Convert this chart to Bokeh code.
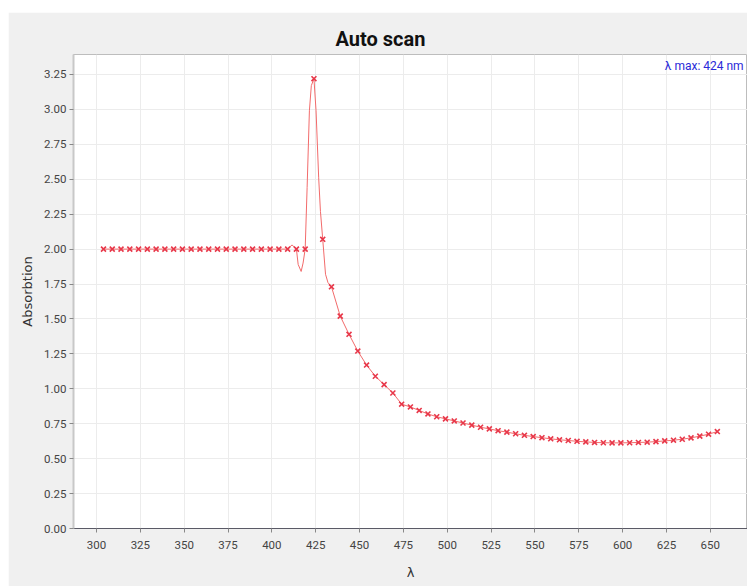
from bokeh.plotting import figure
from bokeh.models import Label, Range1d, FixedTicker, NumeralTickFormatter, Spacer
from bokeh.layouts import column, row
from bokeh.embed import file_html
from bokeh.resources import INLINE

# ---- data ----
mark_x = [304, 309, 314, 319, 324, 329, 334, 339, 344, 349, 354, 359, 364, 369,
          374, 379, 384, 389, 394, 399, 404, 409, 414, 419, 424, 429, 434, 439,
          444, 449, 454, 459, 464, 469, 474, 479, 484, 489, 494, 499, 504, 509,
          514, 519, 524, 529, 534, 539, 544, 549, 554, 559, 564, 569, 574, 579,
          584, 589, 594, 599, 604, 609, 614, 619, 624, 629, 634, 639, 644, 649, 654]
mark_y = [2.00, 2.00, 2.00, 2.00, 2.00, 2.00, 2.00, 2.00, 2.00, 2.00, 2.00, 2.00,
          2.00, 2.00, 2.00, 2.00, 2.00, 2.00, 2.00, 2.00, 2.00, 2.00, 2.00, 2.00,
          3.22, 2.07, 1.73, 1.52, 1.39, 1.27, 1.17, 1.09, 1.03, 0.97, 0.89, 0.87,
          0.845, 0.82, 0.80, 0.785, 0.77, 0.755, 0.74, 0.725, 0.713, 0.70, 0.69,
          0.678, 0.667, 0.658, 0.65, 0.642, 0.635, 0.63, 0.624, 0.62, 0.616, 0.614,
          0.613, 0.613, 0.614, 0.616, 0.618, 0.622, 0.627, 0.632, 0.639, 0.649,
          0.661, 0.675, 0.694]

# extra points of the continuous trace around the peak
detail_x = [411.5, 415.0, 416.7, 417.8, 420.1, 421.4, 422.5, 425.2, 426.7, 427.7, 430.6, 432.0]
detail_y = [2.03, 1.89, 1.84, 1.90, 2.44, 2.99, 3.17, 2.99, 2.51, 2.27, 1.82, 1.76]

x_ticks = [300, 325, 350, 375, 400, 425, 450, 475, 500, 525, 550, 575, 600, 625, 650]
y_ticks = [0.0, 0.25, 0.5, 0.75, 1.0, 1.25, 1.5, 1.75, 2.0, 2.25, 2.5, 2.75, 3.0, 3.25]

title_text = "Auto scan"
x_label = "λ"
y_label = "Absorbtion"
peak_text = "λ max: 424 nm"

pairs = sorted(list(zip(mark_x, mark_y)) + list(zip(detail_x, detail_y)))
line_x = [a for a, b in pairs]
line_y = [b for a, b in pairs]

p = figure(width=739, height=574, output_backend="svg", toolbar_location=None,
           x_range=Range1d(286.9, 671.2), y_range=Range1d(0, 3.393),
           min_border_left=65, min_border_right=0, min_border_top=42, min_border_bottom=58)

p.background_fill_color = "white"
p.border_fill_color = "#f0f0f0"
p.outline_line_color = "#bdbdbd"

p.title.text = title_text
p.title.text_font = "Roboto"
p.title.text_font_size = "20px"
p.title.text_font_style = "bold"
p.title.text_color = "#111111"
p.title.align = "left"
p.title.offset = 262
p.title.standoff = 8

p.line(line_x, line_y, line_color="#f26b6b", line_width=1)
p.scatter(mark_x, mark_y, marker="x", size=7, line_color="#e8384a", line_width=1.6)

for ax in (p.xaxis, p.yaxis):
    ax.major_label_text_font = "Roboto"
    ax.major_label_text_font_size = "11.5px"
    ax.major_label_text_color = "#444444"
    ax.axis_label_text_font = "DejaVu Sans"
    ax.axis_label_text_font_size = "13px"
    ax.axis_label_text_font_style = "normal"
    ax.axis_label_text_color = "#333333"
    ax.major_tick_out = 4
    ax.major_tick_in = 0
    ax.minor_tick_out = 0
    ax.minor_tick_in = 0
    ax.major_tick_line_color = "#888888"

p.xaxis.ticker = FixedTicker(ticks=x_ticks)
p.yaxis.ticker = FixedTicker(ticks=y_ticks)
p.yaxis.formatter = NumeralTickFormatter(format="0.00")
p.xaxis.axis_label = x_label
p.yaxis.axis_label = y_label
p.xaxis.axis_line_color = "#5a5a66"
p.yaxis.axis_line_color = "#c8c8c8"
p.yaxis.axis_line_width = 2
p.xaxis.major_label_standoff = 8
p.yaxis.major_label_standoff = 3
p.xaxis.axis_label_standoff = 13
p.yaxis.axis_label_standoff = 6

p.grid.grid_line_color = "#ececec"
p.grid.grid_line_width = 1

p.add_layout(Label(x=669.0, y=3.31, text=peak_text, text_font="Roboto",
                   text_font_size="12px", text_color="#2a2ad8",
                   text_baseline="middle", text_align="right"))

layout = column(Spacer(height=12, width=747),
                row(Spacer(width=8, height=574), p, spacing=0),
                spacing=0)
open("out.html", "w").write(file_html(layout, INLINE))
